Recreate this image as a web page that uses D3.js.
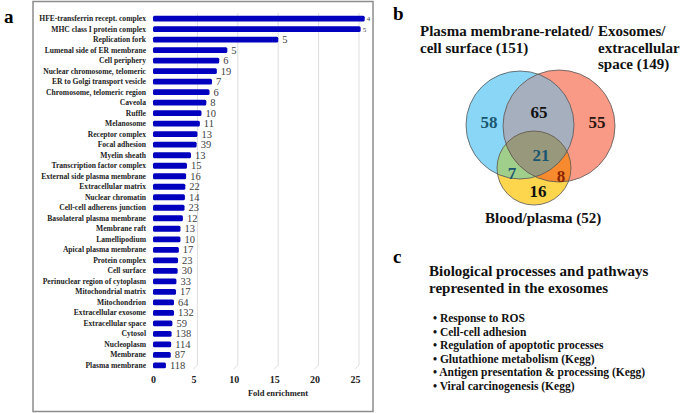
<!DOCTYPE html>
<html>
<head>
<meta charset="utf-8">
<script src="https://cdn.jsdelivr.net/npm/d3@7"></script>
<style>
  body { margin: 0; background: #fff; }
  svg { display: block; font-family: "Liberation Serif", "Times New Roman", serif; }
</style>
</head>
<body>
<div id="chart"></div>
<script>
// GO cellular component terms (top to bottom)
var categories = [
  "HFE-transferrin recept. complex", "MHC class I protein complex", "Replication fork",
  "Lumenal side of ER membrane", "Cell periphery", "Nuclear chromosome, telomeric",
  "ER to Golgi transport vesicle", "Chromosome, telomeric region", "Caveola", "Ruffle",
  "Melanosome", "Receptor complex", "Focal adhesion", "Myelin sheath",
  "Transcription factor complex", "External side plasma membrane", "Extracellular matrix",
  "Nuclear chromatin", "Cell-cell adherens junction", "Basolateral plasma membrane",
  "Membrane raft", "Lamellipodium", "Apical plasma membrane", "Protein complex",
  "Cell surface", "Perinuclear region of cytoplasm", "Mitochondrial matrix", "Mitochondrion",
  "Extracellular exosome", "Extracellular space", "Cytosol", "Nucleoplasm", "Membrane",
  "Plasma membrane"
];
var foldEnrichment = [
  26.2, 25.7, 15.5, 9.2, 8.2, 7.9, 7.3, 7.0, 6.6, 6.0, 5.8, 5.5, 5.4, 4.7,
  4.2, 4.1, 4.0, 3.95, 3.9, 3.7, 3.4, 3.4, 3.2, 3.1, 3.05, 2.9, 2.85, 2.6,
  2.6, 2.4, 2.3, 2.25, 2.2, 1.6
];
var geneCounts = [
  4, 5, 5, 5, 6, 19, 7, 6, 8, 10, 11, 13, 39, 13, 15, 16, 22, 14, 23, 12,
  13, 10, 17, 23, 30, 33, 17, 64, 132, 59, 138, 114, 87, 118
];
var xTicks = [0, 5, 10, 15, 20, 25];

// Venn diagram
var vennSetNames = ["Plasma membrane", "Exosomes", "Blood"];
var vennRegionLabels = ["58", "65", "55", "21", "7", "8", "16"];

// Panel c
var processTitle = ["Biological processes and pathways", "represented in the exosomes"];
var processes = [
  "Response to ROS", "Cell-cell adhesion", "Regulation of apoptotic processes",
  "Glutathione metabolism (Kegg)", "Antigen presentation & processing (Kegg)",
  "Viral carcinogenesis (Kegg)"
];

var svgWidth = 685, svgHeight = 413;
var svg = d3.select("#chart").append("svg")
  .attr("width", svgWidth)
  .attr("height", svgHeight);

// ---------- Panel a ----------
svg.append("rect")
  .attr("x", 33).attr("y", 1.5)
  .attr("width", 340).attr("height", 410)
  .attr("fill", "none")
  .attr("stroke", "#8c8c8c")
  .attr("stroke-width", 1.5);

svg.append("text").attr("x", 4).attr("y", 23)
  .attr("font-size", 19).attr("font-weight", "bold").text("a");

var xScale = d3.scaleLinear().domain([0, 25]).range([153, 355]);
var yScale = d3.scaleBand().domain(categories).range([15.8, 368.2]).paddingInner(0.45);

// gridlines (slightly offset, like the 3D floor of the original)
var grid = svg.append("g");
grid.selectAll("line.g")
  .data(xTicks.slice(1))
  .enter().append("line")
  .attr("x1", d => xScale(d) + 4).attr("x2", d => xScale(d) + 4)
  .attr("y1", 13).attr("y2", 365)
  .attr("stroke", "#dedede").attr("stroke-width", 1);
grid.selectAll("line.s")
  .data(xTicks.slice(1))
  .enter().append("line")
  .attr("x1", d => xScale(d) + 4).attr("x2", d => xScale(d))
  .attr("y1", 365).attr("y2", 369)
  .attr("stroke", "#dedede").attr("stroke-width", 1);

// bars
svg.append("g").selectAll("rect")
  .data(categories)
  .enter().append("rect")
  .attr("x", xScale(0))
  .attr("y", d => yScale(d))
  .attr("width", (d, i) => xScale(foldEnrichment[i]) - xScale(0))
  .attr("height", yScale.bandwidth())
  .attr("rx", 1.5)
  .attr("fill", "#0000be");

// gene count labels
svg.append("g").selectAll("text")
  .data(categories)
  .enter().append("text")
  .attr("x", (d, i) => xScale(foldEnrichment[i]) + (foldEnrichment[i] > 25 ? 2 : 4))
  .attr("y", d => yScale(d) + yScale.bandwidth() / 2)
  .attr("dy", "0.35em")
  .attr("font-size", (d, i) => foldEnrichment[i] > 25 ? 7 : 10.5)
  .attr("fill", "#404040")
  .text((d, i) => geneCounts[i]);

// category labels
svg.append("g").selectAll("text")
  .data(categories)
  .enter().append("text")
  .attr("x", 146)
  .attr("y", d => yScale(d) + yScale.bandwidth() / 2)
  .attr("dy", "0.35em")
  .attr("text-anchor", "end")
  .attr("font-size", 7.6)
  .attr("font-weight", "bold")
  .attr("fill", "#222")
  .text(d => d);

// x axis
var xAxis = svg.append("g")
  .attr("transform", "translate(0, 376)")
  .call(d3.axisBottom(xScale).tickValues(xTicks).tickSize(0).tickPadding(0));
xAxis.select(".domain").remove();
xAxis.selectAll("text")
  .attr("font-family", "Liberation Serif, serif")
  .attr("font-size", 10)
  .attr("font-weight", "bold")
  .attr("fill", "#222");

svg.append("text")
  .attr("x", 278).attr("y", 396)
  .attr("text-anchor", "middle")
  .attr("font-size", 8.5).attr("font-weight", "bold")
  .attr("fill", "#222")
  .text("Fold enrichment");

// ---------- Panel b: Venn ----------
svg.append("text").attr("x", 393).attr("y", 20)
  .attr("font-size", 19).attr("font-weight", "bold").text("b");

var circles = [
  {name: vennSetNames[0], cx: 520, cy: 125, r: 54, fill: "#8ad6f7"},
  {name: vennSetNames[1], cx: 559, cy: 126, r: 56, fill: "#f99a87"},
  {name: vennSetNames[2], cx: 534, cy: 168, r: 37, fill: "#fdd64e"}
];

var defs = svg.append("defs");
circles.forEach(function(c, i) {
  defs.append("clipPath").attr("id", "clip" + i)
    .append("circle").attr("cx", c.cx).attr("cy", c.cy).attr("r", c.r);
});

var venn = svg.append("g");
venn.selectAll("circle.base")
  .data(circles)
  .enter().append("circle")
  .attr("cx", d => d.cx).attr("cy", d => d.cy).attr("r", d => d.r)
  .attr("fill", d => d.fill);

// pairwise overlaps
venn.append("g").attr("clip-path", "url(#clip0)")
  .append("circle").attr("cx", circles[1].cx).attr("cy", circles[1].cy).attr("r", circles[1].r)
  .attr("fill", "#a6afbe");
venn.append("g").attr("clip-path", "url(#clip0)")
  .append("circle").attr("cx", circles[2].cx).attr("cy", circles[2].cy).attr("r", circles[2].r)
  .attr("fill", "#9fcf8a");
venn.append("g").attr("clip-path", "url(#clip1)")
  .append("circle").attr("cx", circles[2].cx).attr("cy", circles[2].cy).attr("r", circles[2].r)
  .attr("fill", "#f7892f");
// triple overlap
venn.append("g").attr("clip-path", "url(#clip0)")
  .append("g").attr("clip-path", "url(#clip1)")
  .append("circle").attr("cx", circles[2].cx).attr("cy", circles[2].cy).attr("r", circles[2].r)
  .attr("fill", "#98987c");

venn.selectAll("circle.outline")
  .data(circles)
  .enter().append("circle")
  .attr("cx", d => d.cx).attr("cy", d => d.cy).attr("r", d => d.r)
  .attr("fill", "none").attr("stroke", "#555").attr("stroke-width", 0.8);

var regionPos = [
  {x: 489, y: 122, c: "#1b5670"},
  {x: 539, y: 112, c: "#111"},
  {x: 597, y: 122, c: "#2a1510"},
  {x: 541, y: 155, c: "#1b5670"},
  {x: 512, y: 173, c: "#1b5670"},
  {x: 561, y: 176, c: "#8a2500"},
  {x: 538, y: 191, c: "#111"}
];
venn.selectAll("text")
  .data(vennRegionLabels)
  .enter().append("text")
  .attr("x", (d, i) => regionPos[i].x)
  .attr("y", (d, i) => regionPos[i].y)
  .attr("dy", "0.35em")
  .attr("text-anchor", "middle")
  .attr("font-size", 17).attr("font-weight", "bold")
  .attr("fill", (d, i) => regionPos[i].c)
  .text(d => d);

function addLines(lines, x, y0, step, size, anchor) {
  lines.forEach(function(t, i) {
    svg.append("text").attr("x", x).attr("y", y0 + i * step)
      .attr("font-size", size).attr("font-weight", "bold")
      .attr("text-anchor", anchor || "start")
      .attr("fill", "#111").text(t);
  });
}
addLines(["Plasma membrane-related/", "cell surface (151)"], 420, 36, 16.5, 15);
addLines(["Exosomes/", "extracellular", "space (149)"], 598, 36, 16.5, 15);
addLines(["Blood/plasma (52)"], 485, 223, 0, 15);

// ---------- Panel c ----------
svg.append("text").attr("x", 393).attr("y", 263)
  .attr("font-size", 19).attr("font-weight", "bold").text("c");

addLines(processTitle, 429, 276, 16.5, 15);
addLines(processes.map(d => "\u2022 " + d), 433, 322, 13.5, 11.5);
</script>
</body>
</html>
